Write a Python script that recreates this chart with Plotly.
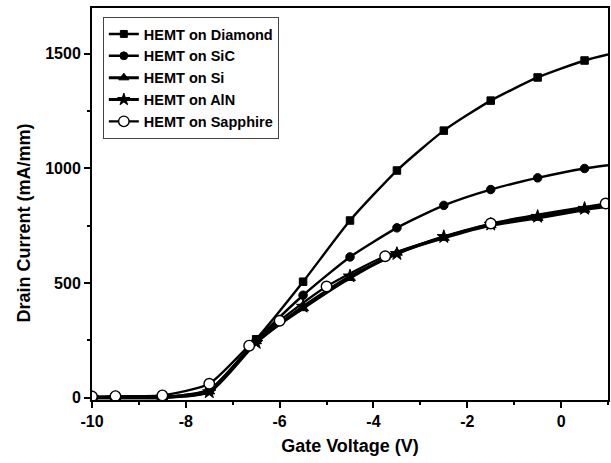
import plotly.graph_objects as go

# ---- data ----
x_common = [-10, -9.5, -8.5, -7.5, -6.5, -5.5, -4.5, -3.5, -2.5, -1.5, -0.5, 0.5, 1.0]
diamond = [0, 0, 2, 35, 255, 506, 773, 991, 1165, 1296, 1397, 1471, 1497]
sic = [0, 0, 2, 33, 250, 447, 614, 741, 839, 908, 959, 1000, 1014]
si = [0, 0, 1, 27, 246, 390, 522, 632, 697, 752, 784, 820, 835]
aln = [0, 0, 1, 25, 240, 398, 530, 628, 702, 756, 790, 825, 840]

x_sapphire = [-10, -9.5, -8.5, -7.5, -6.65, -6.0, -5.0, -3.75, -1.5, 0.95]
sapphire = [5, 7, 10, 61, 227, 336, 485, 617, 760, 847]

x_ticks = [-10, -8, -6, -4, -2, 0]
y_ticks = [0, 500, 1000, 1500]

names = ["HEMT on Diamond", "HEMT on SiC", "HEMT on Si", "HEMT on AlN", "HEMT on Sapphire"]

FONT = "Liberation Sans, Arial, sans-serif"


def sizes(n, s):
    # markers on every measured point except the last one, which lies on the frame edge
    return [s] * (n - 1) + [0]


fig = go.Figure()

series = [
    (x_common, diamond, "square", 7.5, 2.4),
    (x_common, sic, "circle", 8.5, 2.4),
    (x_common, si, "triangle-up", 9.5, 3.0),
    (x_common, aln, "star", 10, 3.0),
]
for (xs, ys, sym, ms, lw), name in zip(series, names[:4]):
    fig.add_trace(go.Scatter(
        x=xs, y=ys, name=name, mode="lines+markers",
        line=dict(color="black", width=lw, shape="spline", smoothing=0.6),
        marker=dict(symbol=sym, size=sizes(len(xs), ms), color="black", opacity=1,
                    line=dict(width=1, color="black")),
    ))

fig.add_trace(go.Scatter(
    x=x_sapphire, y=sapphire, name=names[4], mode="lines+markers",
    line=dict(color="black", width=2.2, shape="spline", smoothing=0.6),
    marker=dict(symbol="circle", size=10.5, color="white", opacity=1,
                line=dict(color="black", width=1.4)),
))

axis_common = dict(
    showline=True, mirror=True, linecolor="black", linewidth=2,
    showgrid=False, zeroline=False,
    ticks="outside", ticklen=6, tickwidth=2, tickcolor="black",
    tickfont=dict(family=FONT, size=16, color="black", weight="bold"),
)

fig.update_xaxes(
    **axis_common,
    range=[-10, 1], tickvals=x_ticks, ticktext=[str(v) for v in x_ticks],
    minor=dict(dtick=1, ticks="outside", ticklen=3, tickwidth=2, tickcolor="black"),
    title=dict(text="Gate Voltage (V)", font=dict(family=FONT, size=18, color="black", weight="bold"),
               standoff=10),
)
fig.update_yaxes(
    **axis_common,
    range=[-10, 1700], tickvals=y_ticks, ticktext=[str(v) for v in y_ticks],
    minor=dict(dtick=250, ticks="outside", ticklen=3, tickwidth=2, tickcolor="black"),
)

fig.add_annotation(
    text="Drain Current (mA/mm)", textangle=-90,
    xref="paper", yref="paper", x=-0.131, y=0.4515,
    xanchor="center", yanchor="middle", showarrow=False,
    font=dict(family=FONT, size=18, color="black", weight="bold"),
)

fig.update_layout(
    width=611, height=463,
    margin=dict(l=92, r=1, t=8, b=63),
    plot_bgcolor="white", paper_bgcolor="white",
    legend=dict(
        x=0.021, y=0.977, xanchor="left", yanchor="top",
        bgcolor="white", bordercolor="#444", borderwidth=1,
        font=dict(family=FONT, size=14.5, color="black", weight="bold"),
        tracegroupgap=0, itemwidth=30,
    ),
    showlegend=True,
)

fig.write_html("out.html")
